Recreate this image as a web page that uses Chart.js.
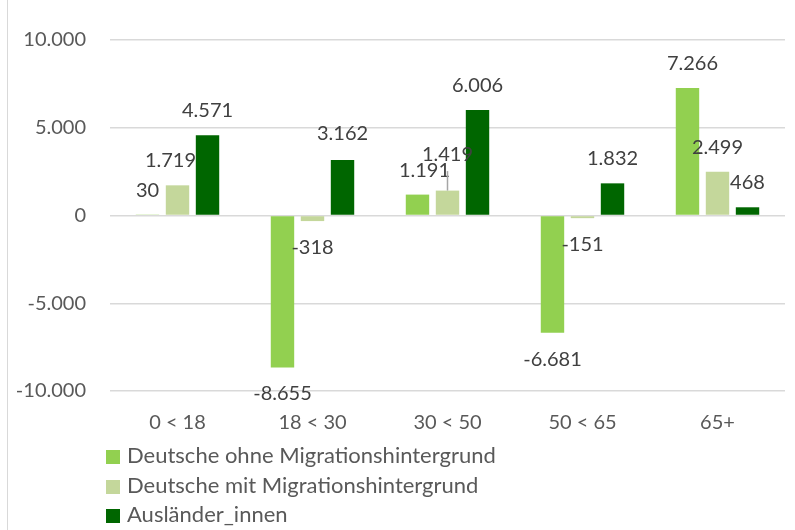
<!DOCTYPE html>
<html>
<head>
<meta charset="utf-8">
<script src="https://cdn.jsdelivr.net/npm/chart.js@4"></script>
<style>
  html, body { margin: 0; padding: 0; background: #fff; }
  #wrap { position: relative; width: 795px; height: 530px; }
  #frame { position: absolute; left: 7px; top: 0; width: 1px; height: 530px; background: #d9d9d9; }
  #legend { position: absolute; left: 106px; top: 440px; font-family: Lato, sans-serif; font-size: 22px; color: #595959; }
  #legend div { height: 29.5px; line-height: 29.5px; white-space: nowrap; }
  #legend span { display: inline-block; width: 14px; height: 14px; margin-right: 7px; vertical-align: -1px; }
</style>
</head>
<body>
<div id="wrap">
  <div id="frame"></div>
  <canvas id="chart" width="795" height="530"></canvas>
  <div id="legend"></div>
</div>
<script>
/* ---------- data ---------- */
const categories  = ['0 < 18', '18 < 30', '30 < 50', '50 < 65', '65+'];
const seriesNames = ['Deutsche ohne Migrationshintergrund', 'Deutsche mit Migrationshintergrund', 'Ausländer_innen'];
const ohneMigration = [30, -8655, 1191, -6681, 7266];
const mitMigration  = [1719, -318, 1419, -151, 2499];
const auslaender    = [4571, 3162, 6006, 1832, 468];
const yTickValues   = [-10000, -5000, 0, 5000, 10000];

const colors = ['#92d050', '#c4d79b', '#006600'];
// label nudges [dx, dy] (Excel moved a few labels to avoid overlap)
const labelNudge = [
  [[0,0], [0,0], [7,0], [0,0], [5,0]],
  [[-7,0], [0,0], [0,-12], [0,0], [0,0]],
  [[0,0], [0,-2], [0,0], [0,0], [0,0]]
];

function fmt(v) {
  const s = String(Math.abs(v)).replace(/\B(?=(\d{3})+(?!\d))/g, '.');
  return (v < 0 ? '-' : '') + s;
}

Chart.defaults.font.family = 'Lato, sans-serif';
Chart.defaults.font.size = 20;
Chart.defaults.color = '#595959';

const valueLabels = {
  id: 'valueLabels',
  afterDatasetsDraw(chart) {
    const ctx = chart.ctx;
    ctx.save();
    ctx.font = '20px Lato, sans-serif';
    ctx.fillStyle = '#404040';
    ctx.textAlign = 'center';
    ctx.textBaseline = 'middle';
    chart.data.datasets.forEach((ds, di) => {
      chart.getDatasetMeta(di).data.forEach((el, i) => {
        const v = ds.data[i];
        const n = labelNudge[di][i];
        const x = el.x + n[0];
        const y = (v >= 0 ? el.y - 24.5 : el.y + 26.5) + n[1];
        if (n[1] < -8) {
          ctx.strokeStyle = '#a6a6a6';
          ctx.lineWidth = 1.5;
          ctx.beginPath();
          ctx.moveTo(el.x, y + 17);
          ctx.lineTo(el.x, el.y);
          ctx.stroke();
        }
        ctx.fillText(fmt(v), x, y);
      });
    });
    ctx.restore();
  }
};

const seriesData = [ohneMigration, mitMigration, auslaender];

new Chart(document.getElementById('chart'), {
  type: 'bar',
  data: {
    labels: categories,
    datasets: seriesData.map((d, i) => ({
      label: seriesNames[i],
      data: d,
      backgroundColor: colors[i],
      borderWidth: 0,
      categoryPercentage: 0.667,
      barPercentage: 0.78
    }))
  },
  options: {
    responsive: false,
    animation: false,
    layout: { padding: { top: 40, left: 16, right: 10, bottom: 95 } },
    plugins: { legend: { display: false }, tooltip: { enabled: false } },
    scales: {
      x: {
        grid: { display: false, drawTicks: false },
        border: { display: false },
        ticks: { padding: 20, color: '#595959' },
        afterFit: s => { s.height = 44; }
      },
      y: {
        min: -10000, max: 10000,
        afterBuildTicks: s => { s.ticks = yTickValues.map(v => ({ value: v })); },
        afterFit: s => { s.width = 94; },
        grid: { color: '#d9d9d9', lineWidth: 1.5, drawTicks: false },
        border: { display: false },
        ticks: { padding: 24, color: '#595959', callback: v => fmt(v) }
      }
    }
  },
  plugins: [valueLabels]
});

document.getElementById('legend').innerHTML = seriesNames
  .map((n, i) => '<div><span style="background:' + colors[i] + '"></span>' + n + '</div>')
  .join('');
</script>
</body>
</html>
